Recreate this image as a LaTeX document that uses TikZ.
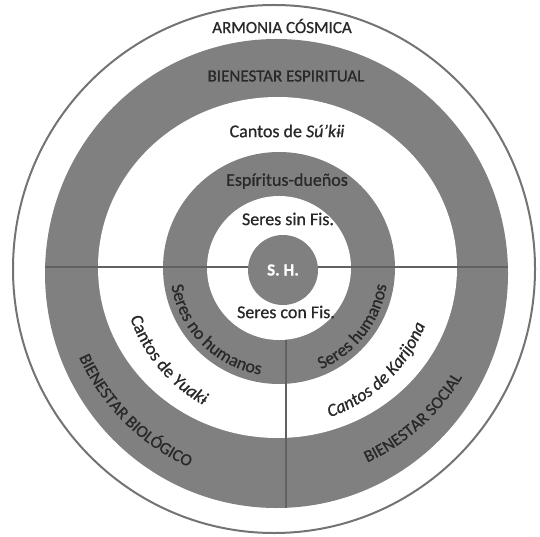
\documentclass[tikz,border=0pt]{standalone}
\usepackage{fontspec}
\setmainfont{Carlito}[FakeBold=0.7]
\usetikzlibrary{decorations.text}
\definecolor{ringgray}{RGB}{128,128,128}
\definecolor{inkgray}{RGB}{40,40,40}
\newcommand\ringfont{\fontsize{9}{10}\selectfont}
\newcommand\capsfont{\fontsize{8.5}{10}\selectfont}
\begin{document}
\begin{tikzpicture}[x=0.5pt,y=0.5pt,
    lbl/.style={text=inkgray,font=\ringfont,inner sep=0pt},
    capslbl/.style={text=inkgray,font=\capsfont,inner sep=0pt},
    divider/.style={draw=black!62,line width=1pt},
    ringtext/.style={decorate,decoration={text along path,text align=center,text color=inkgray,text={#1}}}]
\useasboundingbox (0,0) rectangle (540,536);
\draw[line width=1pt,draw=black!55](274,267) ellipse[x radius=261,y radius=264];
\fill[ringgray](276.5,262.5) ellipse[x radius=231.5,y radius=234.5];
\fill[white](277.5,268.5) ellipse[x radius=179.5,y radius=170.5];
\fill[ringgray](279,268) circle(116);
\fill[white](279,268) circle(72);
\coordinate (hleft) at (45,269);
\coordinate (hright) at (508,269);
\coordinate (vtop) at (286,196);
\coordinate (vbot) at (286,28);
\draw[divider](hleft)--(hright);
\draw[divider](vtop)--(vbot);
\fill[ringgray](283,266) circle(35);
\node[capslbl] (armonia) at (282,510) {ARMONIA CÓSMICA};
\node[capslbl] (espiritual) at (286,460) {BIENESTAR ESPIRITUAL};
\node[lbl] (suki) at (287,405) {Cantos de \textit{Sú’kɨi}};
\node[lbl] (duenos) at (287,355) {Espíritus-dueños};
\node[lbl] (sinfis) at (288,317) {Seres sin Fis.};
\node[text=white,font=\bfseries\fontsize{8.5}{10}\selectfont,inner sep=0pt] (sh) at (283,266) {S. H.};
\node[lbl] (confis) at (286,224) {Seres con Fis.};
\begin{scope}[shift={(278,268)}]
\path[ringtext={|\ringfont|Seres no humanos}](170:108) arc (170:280:108);
\path[ringtext={|\ringfont|Cantos de |\ringfont\itshape|Yuakɨ}](170:156) arc (170:270:156);
\path[ringtext={|\capsfont|BIENESTAR BIOLÓGICO}](180:218) arc (180:270:218);
\path[ringtext={|\ringfont|Seres humanos}](265:110) arc (265:379:110);
\path[ringtext={|\ringfont\itshape|Cantos de Karijona}](264:158) arc (264:364:158);
\path[ringtext={|\capsfont|BIENESTAR SOCIAL}](267:214) arc (267:357:214);
\end{scope}
\end{tikzpicture}
\end{document}
